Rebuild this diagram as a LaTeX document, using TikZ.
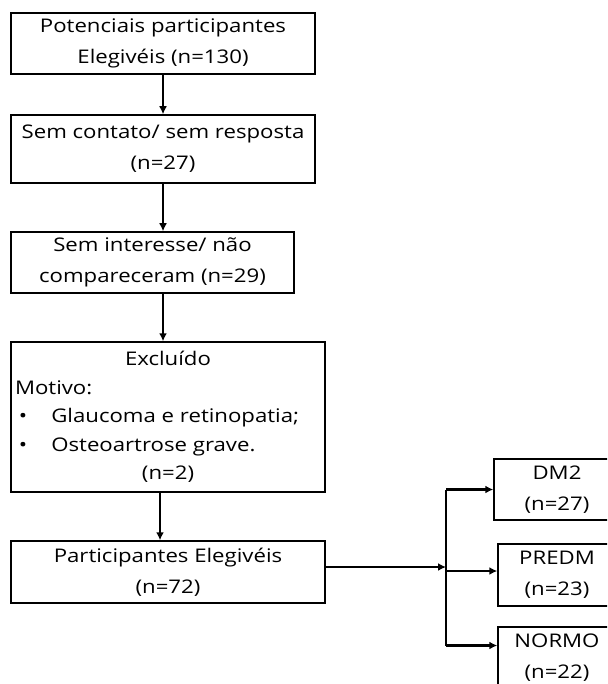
\documentclass[tikz,border=0pt]{standalone}
\usepackage{fontspec}
\setmainfont{Open Sans}[FakeStretch=1.18]
\usetikzlibrary{arrows.meta}

\begin{document}
\begin{tikzpicture}[x=1pt, y=-1pt, every node/.style={font=\fontsize{18.8}{31}\selectfont}, >={Latex[length=8pt,width=8pt]},
	box/.style={draw, line width=1.5pt, align=center, inner sep=2pt},
	link/.style={->, line width=2.6pt}]
	\useasboundingbox (0,0) rectangle (607,684);
	\clip (0,0) rectangle (607,684);
	\node[box, minimum width=304pt, minimum height=61pt] (pot) at (163,43.5) {Potenciais participantes\\Elegivéis (n=130)};
	\node[box, minimum width=304pt, minimum height=68pt] (semcont) at (163,149) {Sem contato/ sem resposta\\(n=27)};
	\node[box, minimum width=283pt, minimum height=61pt] (semint) at (152.5,262.5) {Sem interesse/ não\\compareceram (n=29)};
	\node[box, minimum width=314pt, minimum height=150pt, font=\fontsize{18.8}{28.5}\selectfont] (excl) at (168,417) {Excluído\\\makebox[306pt][l]{Motivo:}\\\makebox[306pt][l]{\hspace*{4pt}\textbullet\hspace{24pt}Glaucoma e retinopatia;}\\\makebox[306pt][l]{\hspace*{4pt}\textbullet\hspace{24pt}Osteoartrose grave.}\\(n=2)};
	\node[box, minimum width=314pt, minimum height=62pt] (eleg) at (168,572) {Participantes Elegivéis\\(n=72)};
	\node[box, minimum width=126pt, minimum height=61pt] (dm) at (557,489.5) {DM2\\(n=27)};
	\node[box, minimum width=118pt, minimum height=62pt] (predm) at (557,575) {PREDM\\(n=23)};
	\node[box, minimum width=118pt, minimum height=61pt] (normo) at (557,657.5) {NORMO\\(n=22)};
	\draw[link] (pot) -- (pot |- semcont.north);
	\draw[link] (semcont) -- (semcont |- semint.north);
	\draw[link] (pot |- semint.south) -- (pot |- excl.north);
	\draw[link] ([xshift=-8pt]excl.south) -- ([xshift=-8pt]excl.south |- eleg.north);
	% split to the three groups
	\coordinate (jn) at (446,567);
	\draw[link] (eleg.east |- jn) -- (jn);
	\draw[line width=2.6pt] (jn |- dm.west) -- ([yshift=12pt]jn |- normo.west);
	\draw[link] (jn |- dm.west) -- (dm.west);
	\draw[link] ([yshift=4pt]jn |- predm.west) -- ([yshift=4pt]predm.west);
	\draw[link] ([yshift=12pt]jn |- normo.west) -- ([yshift=12pt]normo.west);
\end{tikzpicture}
\end{document}
